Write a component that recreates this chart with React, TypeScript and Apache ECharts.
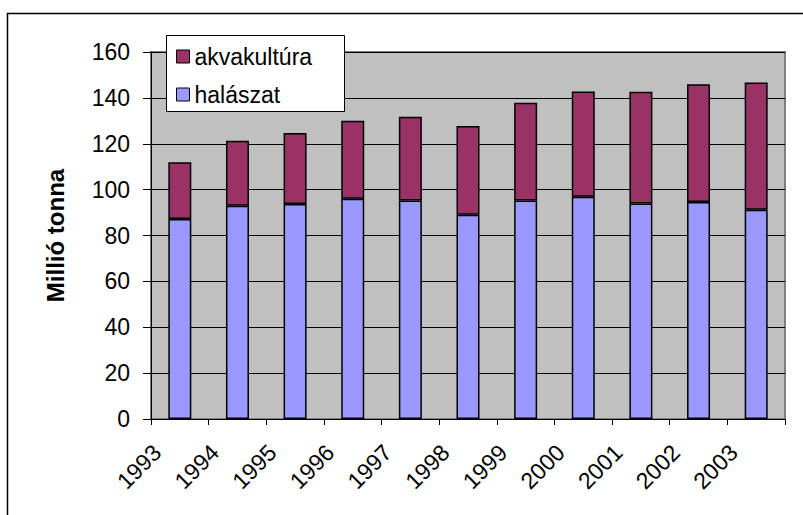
import React, { useEffect, useRef } from "react";
import * as echarts from "echarts";

const years = ["1993", "1994", "1995", "1996", "1997", "1998", "1999", "2000", "2001", "2002", "2003"];
const halaszat = [87.2, 93.0, 93.7, 96.0, 95.3, 89.1, 95.3, 96.9, 93.9, 94.6, 91.2];
const akvakultura = [24.7, 28.3, 31.0, 34.0, 36.5, 38.6, 42.6, 45.9, 48.8, 51.3, 55.5];
const yTitle = "Millió tonna";
const seriesNames = ["halászat", "akvakultúra"];

const FONT = "'Liberation Sans', Arial, Helvetica, sans-serif";

export default function App() {
  const ref = useRef<HTMLDivElement>(null);
  useEffect(() => {
    if (!ref.current) return;
    const chart = echarts.init(ref.current, undefined, { renderer: "svg" });
    chart.setOption({
      animation: false,
      backgroundColor: "#ffffff",
      textStyle: { fontFamily: FONT },
      graphic: [
        {
          type: "rect",
          z: -1,
          shape: { x: 7.5, y: 13.5, width: 900, height: 700 },
          style: { fill: "none", stroke: "#000", lineWidth: 1.5 },
        },
        {
          type: "rect",
          z: 5,
          shape: { x: 166.5, y: 35.5, width: 178, height: 76 },
          style: { fill: "#fff", stroke: "#000", lineWidth: 1 },
        },
      ],
      legend: {
        orient: "vertical",
        left: 166,
        top: 35,
        z: 10,
        data: [seriesNames[1], seriesNames[0]],
        padding: [10, 8, 8, 10],
        itemGap: 15,
        itemWidth: 13,
        itemHeight: 13,
        icon: "rect",
        textStyle: { fontFamily: FONT, fontSize: 23, color: "#000" },
        itemStyle: { borderColor: "#000", borderWidth: 1 },
      },
      grid: {
        left: 151,
        right: 18,
        top: 52,
        bottom: 96,
        show: true,
        backgroundColor: "#C0C0C0",
        borderColor: "#808080",
        borderWidth: 2,
      },
      xAxis: {
        type: "category",
        data: years,
        axisLine: { lineStyle: { color: "#000", width: 1 } },
        axisTick: { show: true, length: 6, lineStyle: { color: "#000" } },
        axisLabel: {
          interval: 0,
          rotate: 45,
          margin: 7,
          padding: [0, 32, 0, 0],
          fontFamily: FONT,
          fontSize: 23,
          color: "#000",
        },
        splitLine: { show: false },
      },
      yAxis: {
        type: "value",
        min: 0,
        max: 160,
        interval: 20,
        name: yTitle,
        nameLocation: "middle",
        nameGap: 84,
        nameTextStyle: { fontFamily: FONT, fontSize: 24, fontWeight: "bold", color: "#000" },
        axisLine: { show: true, lineStyle: { color: "#000", width: 1 } },
        axisTick: { show: true, length: 8, lineStyle: { color: "#000" } },
        axisLabel: { margin: 21, fontFamily: FONT, fontSize: 23, color: "#000" },
        splitLine: { show: true, lineStyle: { color: "#000", width: 1 } },
      },
      series: [
        {
          name: seriesNames[0],
          type: "bar",
          stack: "total",
          data: halaszat,
          barWidth: 23,
          itemStyle: { color: "#9999FF", borderColor: "#000", borderWidth: 1.5 },
        },
        {
          name: seriesNames[1],
          type: "bar",
          stack: "total",
          data: akvakultura,
          barWidth: 23,
          itemStyle: { color: "#993366", borderColor: "#000", borderWidth: 1.5 },
        },
      ],
    });
    return () => chart.dispose();
  }, []);
  return (
    <div
      ref={ref}
      style={{ position: "absolute", left: 0, top: 0, width: 803, height: 515 }}
    />
  );
}
